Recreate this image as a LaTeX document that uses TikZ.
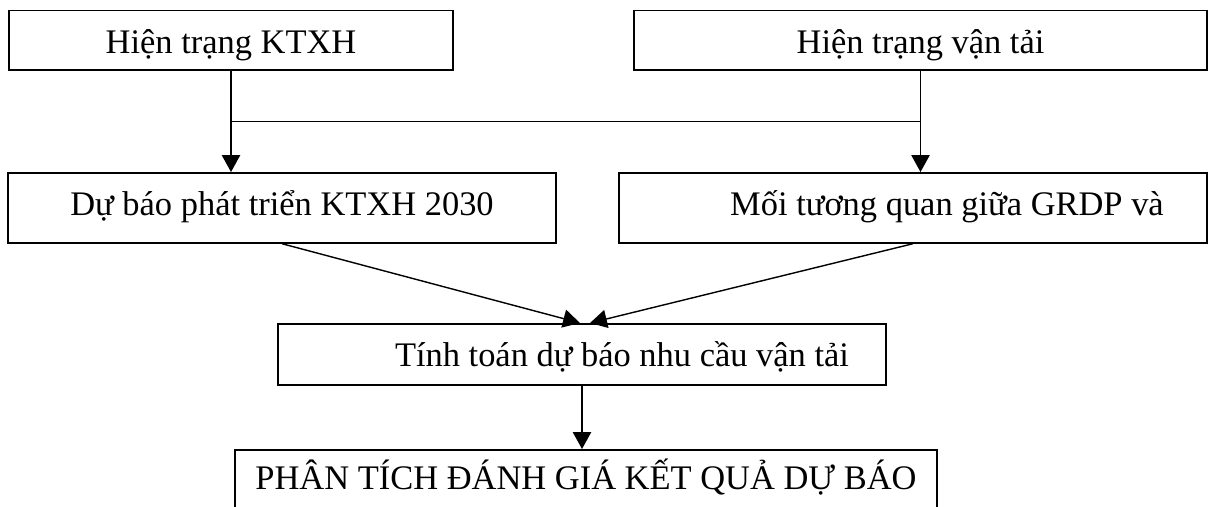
\documentclass[tikz,border=0pt]{standalone}
\usepackage{fontspec}
\setmainfont{Liberation Serif}
\usetikzlibrary{arrows.meta, positioning, calc}

\tikzset{
  flowbox/.style={draw=black, line width=1.2pt, fill=white, inner sep=0pt,
    anchor=north, text height=1.075cm},
  flowarrow/.style={line width=1pt, -{Triangle[length=12pt, width=13pt]}},
  flowline/.style={line width=1pt}
}

\begin{document}
\begin{tikzpicture}[x=0.025cm, y=-0.025cm, font=\fontsize{24.5pt}{29pt}\selectfont]
    \useasboundingbox (0,0) rectangle (1208,506);

    % Top row: present state
    \node[flowbox, minimum width=11.09cm, text depth=0.41cm] (ktxh) at (231,9.5)
      {Hiện trạng KTXH};
    \node[flowbox, minimum width=14.33cm, text depth=0.41cm] (vantai) at (920.5,9.5)
      {Hiện trạng vận tải};

    % Second row
    \node[flowbox, minimum width=13.7cm, text depth=0.675cm] (dubao) at (282,172)
      {Dự báo phát triển KTXH 2030};
    \node[flowbox, minimum width=14.7cm, text depth=0.675cm] (tuongquan) at (913,172)
      {\hspace*{1.7cm}Mối tương quan giữa GRDP và};

    % Calculation and analysis
    \node[flowbox, minimum width=15.2cm, text depth=0.45cm] (tinhtoan) at (582,323)
      {\hspace*{2cm}Tính toán dự báo nhu cầu vận tải};
    \node[flowbox, minimum width=17.55cm, text height=1cm, text depth=0.55cm] (phantich) at (586,449)
      {PHÂN TÍCH ĐÁNH GIÁ KẾT QUẢ DỰ BÁO};

    % Connectors
    \coordinate (jleft) at ($(ktxh.south)!0.5!(ktxh.south |- dubao.north)$);
    \coordinate (jright) at (jleft -| vantai.south);
    \draw[flowarrow] (ktxh.south) -- (ktxh.south |- dubao.north);
    \draw[flowarrow] (vantai.south) -- (vantai.south |- tuongquan.north);
    \draw[flowline] (jleft) -- (jright);

    \draw[flowarrow] (dubao.south) -- ([xshift=-0.05cm]tinhtoan.north);
    \draw[flowarrow] (tuongquan.south) -- ([xshift=0.2cm]tinhtoan.north);
    \draw[flowarrow] (tinhtoan.south) -- (tinhtoan.south |- phantich.north);
\end{tikzpicture}
\end{document}
